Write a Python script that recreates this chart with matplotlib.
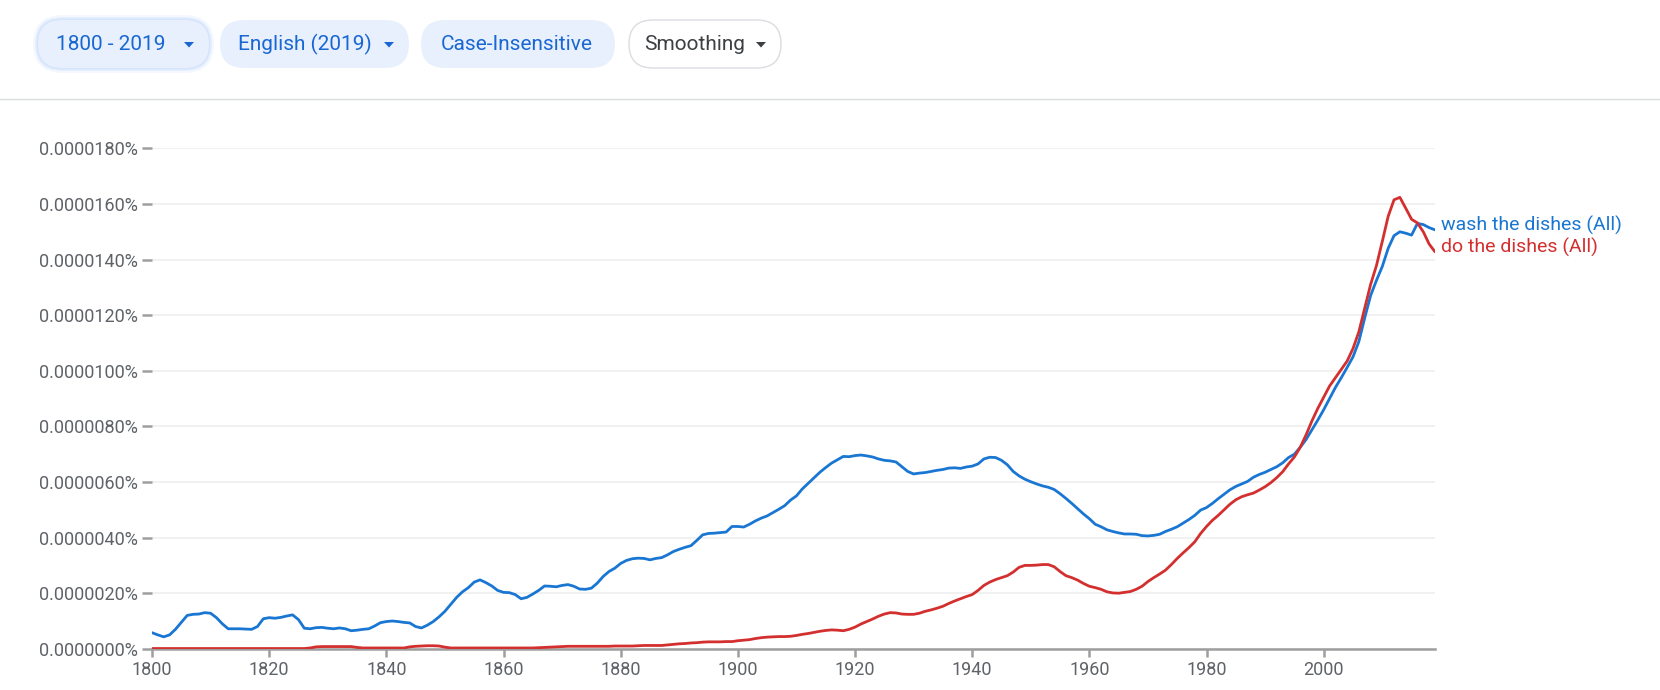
import matplotlib
matplotlib.use("Agg")
import matplotlib.pyplot as plt
from matplotlib.patches import FancyBboxPatch, Polygon

# values in units of 0.0000001 %
years = list(range(1800, 2020))

wash = [
    5.8, 5.0, 4.3, 5.0, 7.0, 9.5, 12.0, 12.4, 12.5, 13.0,
    12.8, 11.2, 9.0, 7.2, 7.2, 7.2, 7.1, 7.0, 8.0, 10.8,
    11.2, 11.0, 11.3, 11.8, 12.2, 10.5, 7.4, 7.2, 7.6, 7.7,
    7.4, 7.2, 7.5, 7.2, 6.5, 6.7, 7.0, 7.2, 8.2, 9.4,
    9.8, 10.0, 9.8, 9.5, 9.3, 8.0, 7.5, 8.5, 9.8, 11.5,
    13.5, 16.0, 18.5, 20.5, 22.0, 24.0, 24.8, 23.8, 22.6, 21.0,
    20.3, 20.2, 19.5, 18.0, 18.5, 19.7, 21.0, 22.6, 22.5, 22.3,
    22.8, 23.1, 22.5, 21.5, 21.4, 21.8, 23.6, 26.0, 27.8, 29.0,
    30.7, 31.8, 32.4, 32.6, 32.5, 32.0, 32.5, 32.8, 33.8, 35.0,
    35.8, 36.5, 37.1, 39.0, 41.0, 41.5, 41.6, 41.8, 42.0, 44.0,
    44.0, 43.8, 44.8, 46.0, 47.0, 47.8, 49.0, 50.2, 51.5, 53.5,
    55.0, 57.5, 59.5, 61.5, 63.5, 65.2, 66.8, 68.0, 69.2, 69.1,
    69.5, 69.7, 69.4, 69.0, 68.3, 67.8, 67.6, 67.2, 65.5, 63.8,
    62.9, 63.2, 63.4, 63.8, 64.2, 64.5, 65.0, 65.1, 64.9, 65.4,
    65.7, 66.5, 68.3, 68.9, 68.8, 67.8, 66.2, 63.8, 62.2, 61.0,
    60.1, 59.3, 58.6, 58.1, 57.3, 55.8, 54.1, 52.3, 50.4, 48.5,
    46.8, 44.8, 43.9, 42.8, 42.2, 41.7, 41.3, 41.3, 41.2, 40.7,
    40.6, 40.8, 41.2, 42.2, 43.0, 43.9, 45.2, 46.5, 48.0, 49.9,
    50.8, 52.3, 54.0, 55.6, 57.2, 58.4, 59.3, 60.2, 61.7, 62.7,
    63.5, 64.5, 65.5, 66.9, 68.8, 70.0, 72.5, 75.3, 78.8, 82.3,
    86.0, 90.0, 94.0, 97.5, 101.2, 105.0, 110.5, 119.0, 127.0, 132.5,
    137.5, 144.0, 148.6, 150.0, 149.5, 148.8, 153.0, 152.6, 151.5, 150.7,
]

do = [
    0.1, 0.1, 0.1, 0.1, 0.1, 0.1, 0.1, 0.1, 0.1, 0.1,
    0.1, 0.1, 0.1, 0.1, 0.1, 0.1, 0.1, 0.1, 0.1, 0.1,
    0.1, 0.1, 0.1, 0.1, 0.1, 0.1, 0.1, 0.3, 0.7, 0.8,
    0.8, 0.8, 0.8, 0.8, 0.8, 0.5, 0.3, 0.3, 0.3, 0.3,
    0.3, 0.3, 0.3, 0.3, 0.7, 0.9, 1.0, 1.1, 1.1, 1.0,
    0.6, 0.3, 0.3, 0.3, 0.3, 0.3, 0.3, 0.3, 0.3, 0.3,
    0.3, 0.3, 0.3, 0.3, 0.3, 0.3, 0.4, 0.5, 0.6, 0.7,
    0.8, 0.9, 0.9, 0.9, 0.9, 0.9, 0.9, 0.9, 0.9, 1.0,
    1.0, 1.0, 1.0, 1.1, 1.2, 1.2, 1.2, 1.2, 1.4, 1.6,
    1.8, 1.9, 2.1, 2.2, 2.4, 2.5, 2.5, 2.5, 2.6, 2.6,
    2.9, 3.1, 3.3, 3.7, 4.0, 4.2, 4.3, 4.4, 4.4, 4.5,
    4.8, 5.2, 5.5, 5.9, 6.3, 6.6, 6.8, 6.7, 6.5, 7.0,
    7.8, 8.9, 9.8, 10.7, 11.7, 12.5, 13.0, 12.9, 12.5, 12.4,
    12.4, 12.8, 13.5, 14.0, 14.6, 15.3, 16.3, 17.2, 18.0, 18.8,
    19.5, 21.0, 22.8, 24.0, 24.9, 25.6, 26.3, 27.6, 29.3, 30.0,
    30.0, 30.1, 30.3, 30.3, 29.5, 27.8, 26.3, 25.6, 24.7, 23.5,
    22.5, 22.0, 21.4, 20.5, 20.1, 20.0, 20.3, 20.6, 21.4, 22.5,
    24.2, 25.6, 26.9, 28.3, 30.3, 32.5, 34.5, 36.4, 38.5, 41.5,
    44.0, 46.2, 48.0, 50.0, 52.0, 53.6, 54.7, 55.4, 56.0, 57.1,
    58.3, 59.8, 61.6, 63.7, 66.5, 69.0, 72.5, 77.0, 82.0, 86.5,
    90.5, 94.5, 97.5, 100.5, 103.5, 108.0, 114.0, 122.5, 131.0, 137.8,
    146.5, 155.5, 161.5, 162.4, 158.5, 154.5, 153.2, 150.0, 145.6, 142.8,
]

series_names = ["wash the dishes (All)", "do the dishes (All)"]
chip_labels = ["1800 - 2019", "English (2019)", "Case-Insensitive", "Smoothing"]
y_ticks = [0, 20, 40, 60, 80, 100, 120, 140, 160, 180]
x_ticks = [1800, 1820, 1840, 1860, 1880, 1900, 1920, 1940, 1960, 1980, 2000]

BLUE = "#1976d2"
RED = "#d32f2f"
GREY = "#9e9e9e"
FONT = ["Roboto", "DejaVu Sans"]

plt.rcParams["font.family"] = FONT

fig = plt.figure(figsize=(16.6, 6.9), dpi=100)
fig.patch.set_facecolor("white")

# header with chips, drawn in pixel coordinates
hdr = fig.add_axes([0, 0, 1, 1], zorder=0)
hdr.set_xlim(0, 1660)
hdr.set_ylim(690, 0)
hdr.axis("off")

chips = [
    # x0, x1, text x, arrow x, filled
    (38, 209, 56, 189, True),
    (220, 409, 238, 389, True),
    (421, 615, 441, None, True),
    (629, 781, 644, 761, False),
]
cy = 44
for (x0, x1, tx, ax_, filled), lab in zip(chips, chip_labels):
    if lab == chip_labels[0]:
        # soft glow around the active chip
        for grow, a in [(5, 0.12), (3, 0.2), (1.5, 0.3)]:
            glow = FancyBboxPatch((x0 - grow, 20 - grow), x1 - x0 + 2 * grow, 48 + 2 * grow,
                                  boxstyle="round,pad=0,rounding_size=%g" % (24 + grow),
                                  fc="#aecbfa", ec="none", alpha=a)
            hdr.add_patch(glow)
    if filled:
        box = FancyBboxPatch((x0, 20), x1 - x0, 48, boxstyle="round,pad=0,rounding_size=24",
                             fc="#e8f0fe", ec="none")
        col = "#1967d2"
    else:
        box = FancyBboxPatch((x0, 20), x1 - x0, 48, boxstyle="round,pad=0,rounding_size=24",
                             fc="white", ec="#dadce0", lw=1)
        col = "#3c4043"
    hdr.add_patch(box)
    hdr.text(tx, cy, lab, fontsize=15, color=col, ha="left", va="center")
    if ax_ is not None:
        hdr.add_patch(Polygon([(ax_ - 5, cy - 2), (ax_ + 5, cy - 2), (ax_, cy + 3.5)],
                              closed=True, fc=col, ec="none"))

hdr.plot([0, 1660], [99, 99], color="#dadce0", lw=1)

# main chart
ax = fig.add_axes([152 / 1660, 41.2 / 690, (1435 - 152) / 1660, 500.4 / 690], zorder=1)
ax.patch.set_alpha(0)
ax.plot(years, wash, color=BLUE, lw=2.0, solid_capstyle="round", zorder=3)
ax.plot(years, do, color=RED, lw=2.0, solid_capstyle="round", zorder=4)

ax.set_xlim(1800, 2019)
ax.set_ylim(0, 180)
ax.set_xticks(x_ticks)
ax.set_yticks(y_ticks)
ax.set_yticklabels(["%.7f%%" % (v * 1e-7) for v in y_ticks])
ax.grid(axis="y", color="#f0f0f0", lw=1.3)
ax.set_axisbelow(True)

for s in ["top", "right", "left"]:
    ax.spines[s].set_visible(False)
ax.spines["bottom"].set_color(GREY)
ax.spines["bottom"].set_linewidth(1.8)

ax.tick_params(axis="y", length=7, width=1.8, color=GREY, pad=3,
               labelsize=13, labelcolor="#5f6368")
ax.tick_params(axis="x", length=6, width=1.8, color=GREY, pad=3,
               labelsize=13, labelcolor="#5f6368")

# series labels at the end of the lines
for vals, name, col in [(wash, series_names[0], BLUE), (do, series_names[1], RED)]:
    ax.annotate(name, xy=(years[-1], vals[-1]), xytext=(4, 3), textcoords="offset points",
                fontsize=14, color=col, ha="left", va="center", annotation_clip=False)

fig.savefig("out.png", dpi=100, facecolor="white")
